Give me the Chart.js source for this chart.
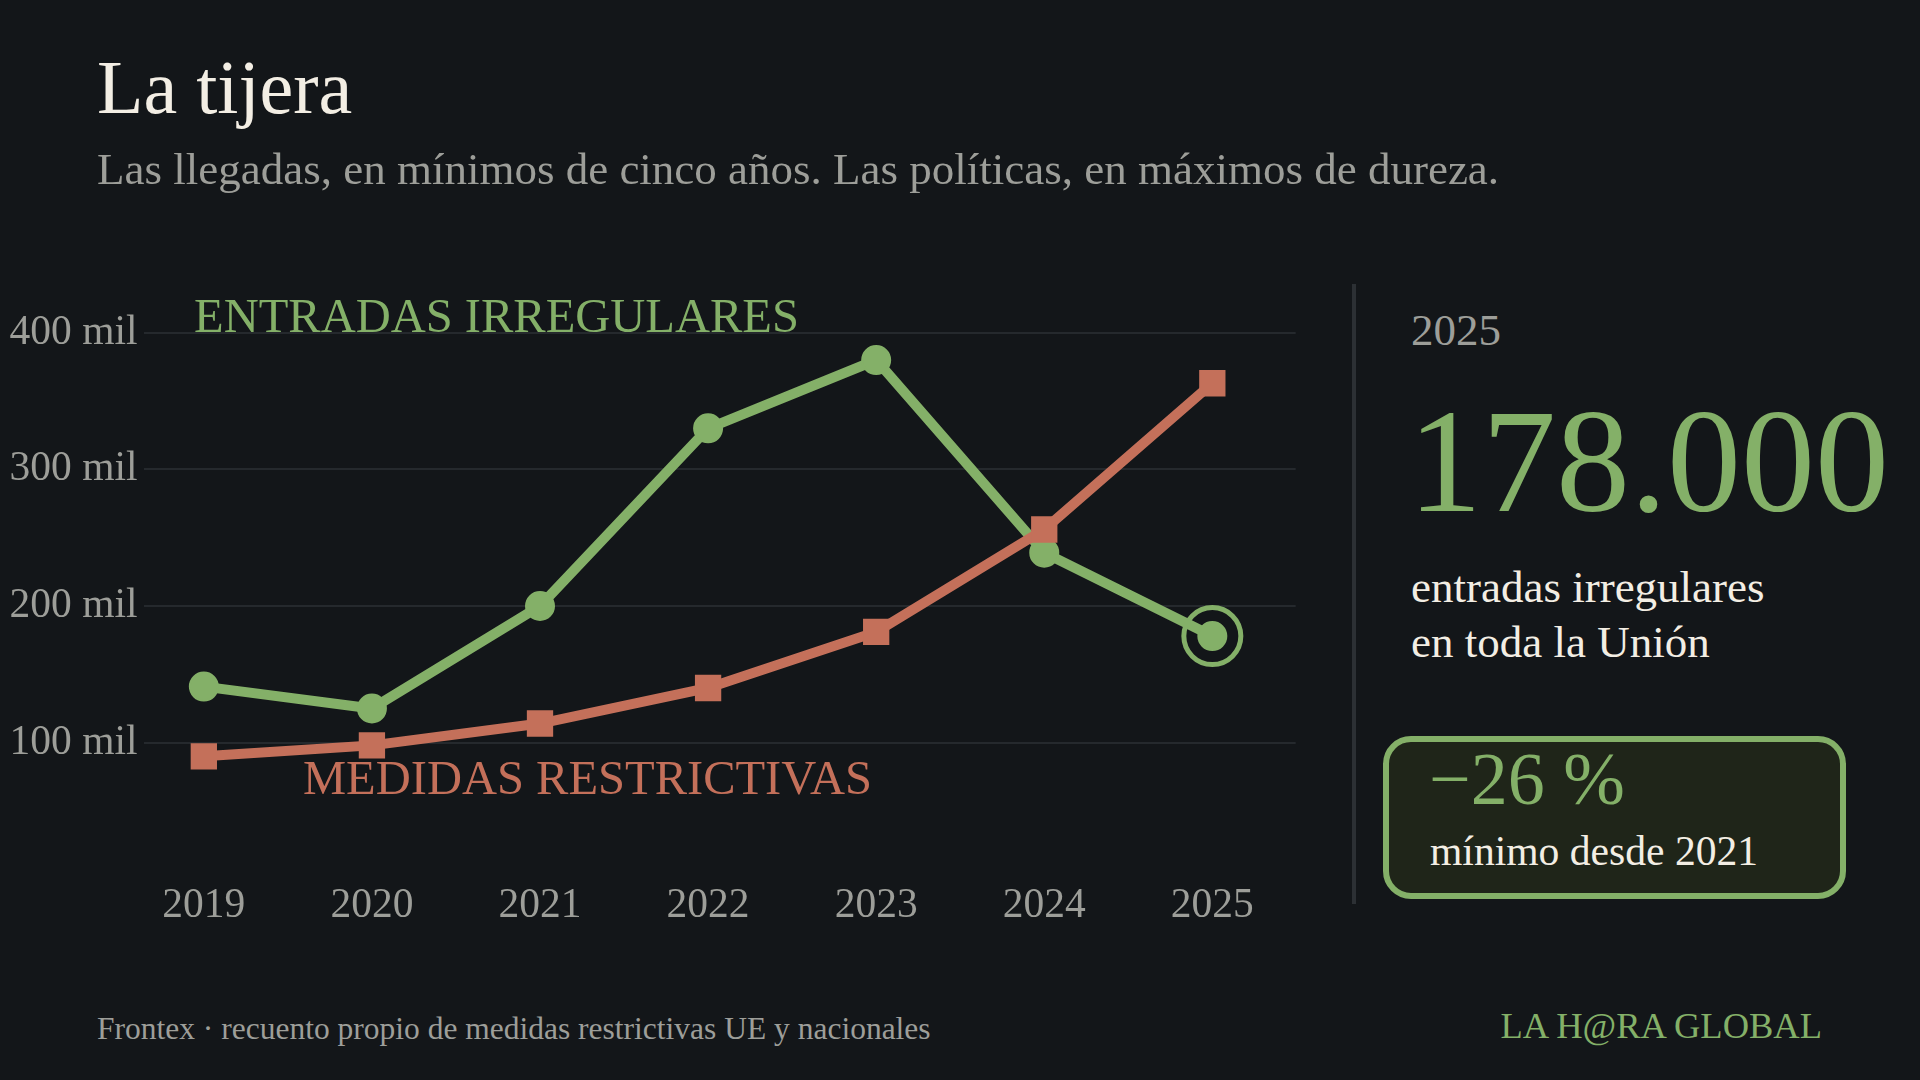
<!DOCTYPE html>
<html>
<head>
<meta charset="utf-8">
<script src="https://cdn.jsdelivr.net/npm/chart.js@4/dist/chart.umd.min.js"></script>
<style>
  html, body { margin:0; padding:0; background:#131619; }
  body { width:1920px; height:1080px; position:relative; overflow:hidden; font-family:"Liberation Serif", "Times New Roman", serif; }
  .t { position:absolute; white-space:nowrap; line-height:1; }
  #wrap { position:absolute; left:0; top:0; width:1340px; height:960px; }
  #divider { position:absolute; left:1352px; top:284px; width:4px; height:620px; background:#2c3034; }
  #box { position:absolute; left:1383px; top:736px; width:451px; height:151px; border:6px solid #84b068; border-radius:28px; background:#1f2519; }
</style>
</head>
<body>
<div id="wrap"><canvas id="c"></canvas></div>

<div class="t" style="left:97px; top:48.6px; font-size:76px; color:#f3eee4;">La tijera</div>
<div class="t" style="left:97px; top:147.3px; font-size:45px; color:#9d9e99;">Las llegadas, en mínimos de cinco años. Las políticas, en máximos de dureza.</div>

<div class="t" style="left:194px; top:292.1px; font-size:48.5px; color:#84b068;">ENTRADAS IRREGULARES</div>
<div class="t" style="left:303px; top:754.4px; font-size:48.5px; color:#c4705a;">MEDIDAS RESTRICTIVAS</div>

<div id="divider"></div>

<div class="t" style="left:1411px; top:308px; font-size:45px; color:#9d9e99;">2025</div>
<div class="t" style="left:1408px; top:386.7px; font-size:148px; color:#84b068;">178.000</div>
<div class="t" style="left:1411px; top:560.3px; font-size:45px; line-height:55px; color:#f3eee4;">entradas irregulares<br>en toda la Unión</div>

<div id="box"></div>
<div class="t" style="left:1429px; top:742px; font-size:74px; color:#84b068;">−26 %</div>
<div class="t" style="left:1430px; top:831.2px; font-size:41.6px; color:#f3eee4;">mínimo desde 2021</div>

<div class="t" style="left:97px; top:1012.9px; font-size:31.5px; color:#9d9e99;">Frontex · recuento propio de medidas restrictivas UE y nacionales</div>
<div class="t" style="right:98px; top:1008.4px; font-size:36.5px; color:#84b068;">LA H@RA GLOBAL</div>

<script>
// ---- data ----
const years = [2019, 2020, 2021, 2022, 2023, 2024, 2025];
const entradasIrregulares = [141, 125, 200, 330, 380, 239, 178];   // miles
const medidasRestrictivas = [90, 98, 114, 140, 181, 256, 363];
const yTicks = [100, 200, 300, 400];

const GREEN = '#84b068';
const RED = '#c4705a';

Chart.defaults.font.family = '"Liberation Serif", "Times New Roman", serif';

const ringPlugin = {
  id: 'ring',
  afterDatasetsDraw(chart) {
    const meta = chart.getDatasetMeta(1);
    const pt = meta.data[meta.data.length - 1];
    if (!pt) return;
    const ctx = chart.ctx;
    ctx.save();
    ctx.beginPath();
    ctx.arc(pt.x, pt.y, 28.5, 0, Math.PI * 2);
    ctx.lineWidth = 5;
    ctx.strokeStyle = GREEN;
    ctx.stroke();
    ctx.restore();
  }
};

new Chart(document.getElementById('c'), {
  type: 'line',
  data: {
    datasets: [
      {
        label: 'Medidas restrictivas',
        data: years.map((y, i) => ({ x: y, y: medidasRestrictivas[i] })),
        borderColor: RED,
        backgroundColor: RED,
        borderWidth: 10,
        pointStyle: 'rect',
        pointRadius: 18.6,
        pointBorderWidth: 0,
        pointBackgroundColor: RED,
        tension: 0,
        order: 0
      },
      {
        label: 'Entradas irregulares',
        data: years.map((y, i) => ({ x: y, y: entradasIrregulares[i] })),
        borderColor: GREEN,
        backgroundColor: GREEN,
        borderWidth: 10,
        pointStyle: 'circle',
        pointRadius: 14,
        pointBorderWidth: 2,
        pointBorderColor: GREEN,
        pointBackgroundColor: GREEN,
        tension: 0,
        order: 1
      }
    ]
  },
  options: {
    responsive: true,
    maintainAspectRatio: false,
    animation: false,
    devicePixelRatio: 1,
    layout: { padding: { top: 332.7, right: 44.3, bottom: 0, left: 0 } },
    plugins: { legend: { display: false }, tooltip: { enabled: false } },
    scales: {
      x: {
        type: 'linear',
        min: 2018.641,
        max: 2025.496,
        afterFit(s) { s.height = 80.7; },
        afterBuildTicks(s) { s.ticks = years.map(v => ({ value: v })); },
        ticks: {
          includeBounds: false,
          stepSize: 1,
          padding: 2,
          color: '#9d9e99',
          font: { size: 41.5 },
          maxRotation: 0,
          autoSkip: false,
          callback: v => String(v)
        },
        grid: { display: false, drawTicks: false },
        border: { display: false }
      },
      y: {
        min: 0,
        max: 400,
        afterFit(s) { s.width = 143.5; },
        afterBuildTicks(s) { s.ticks = [0].concat(yTicks).map(v => ({ value: v })); },
        ticks: {
          padding: 6,
          color: '#9d9e99',
          font: { size: 41.5 },
          callback: v => v === 0 ? '' : v + ' mil'
        },
        grid: {
          drawTicks: false,
          lineWidth: 2,
          color: c => (c.tick && c.tick.value === 0) ? 'rgba(0,0,0,0)' : '#25292d'
        },
        border: { display: false }
      }
    }
  },
  plugins: [ringPlugin]
});
</script>
</body>
</html>
